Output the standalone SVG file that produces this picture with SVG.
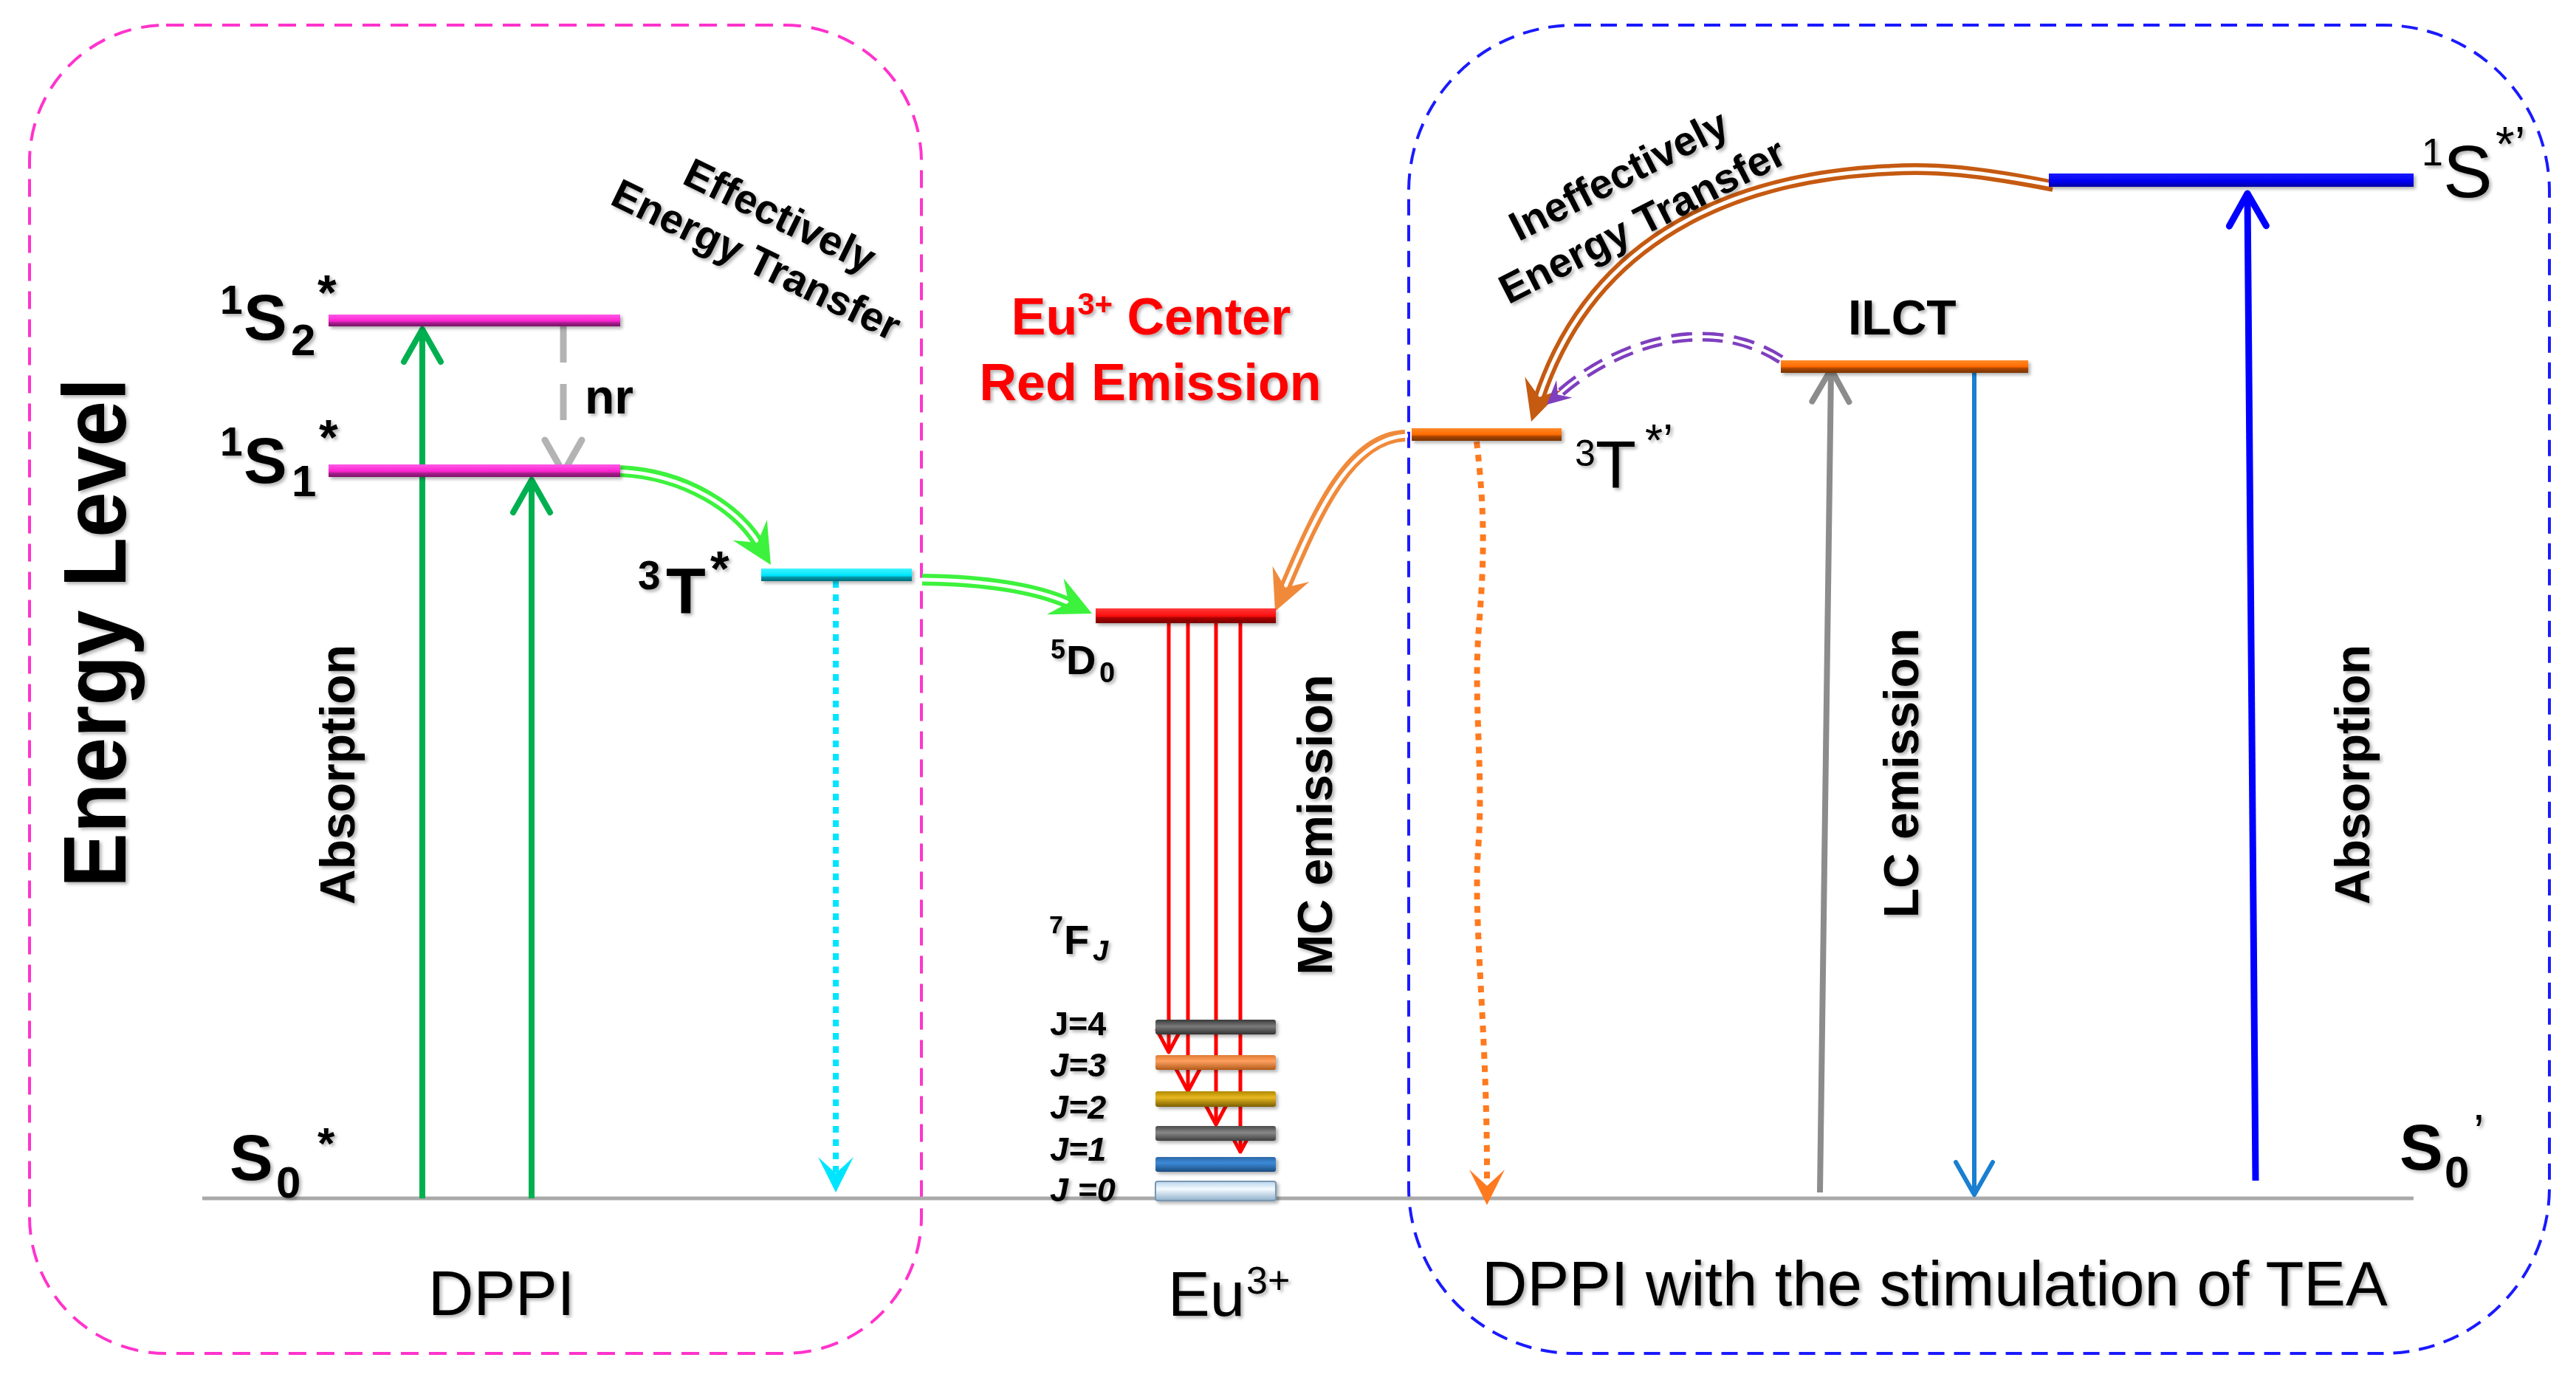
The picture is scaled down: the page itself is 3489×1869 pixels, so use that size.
<svg xmlns="http://www.w3.org/2000/svg" width="3489" height="1869" viewBox="0 0 3489 1869">
<defs>
  <filter id="sh" x="-10%" y="-10%" width="120%" height="130%">
    <feDropShadow dx="3" dy="3" stdDeviation="2" flood-color="#000" flood-opacity="0.3"/>
  </filter>
  <linearGradient id="gMag" x1="0" y1="0" x2="0" y2="1">
    <stop offset="0" stop-color="#ff5ae8"/><stop offset="0.55" stop-color="#ff22d0"/><stop offset="0.7" stop-color="#a8208f"/><stop offset="1" stop-color="#7a1066"/>
  </linearGradient>
  <linearGradient id="gCyan" x1="0" y1="0" x2="0" y2="1">
    <stop offset="0" stop-color="#40f4ff"/><stop offset="0.55" stop-color="#00e5ff"/><stop offset="0.7" stop-color="#0097a8"/><stop offset="1" stop-color="#006b78"/>
  </linearGradient>
  <linearGradient id="gRed" x1="0" y1="0" x2="0" y2="1">
    <stop offset="0" stop-color="#ff3a3a"/><stop offset="0.5" stop-color="#ff0f0f"/><stop offset="0.65" stop-color="#a80000"/><stop offset="1" stop-color="#780000"/>
  </linearGradient>
  <linearGradient id="gOr" x1="0" y1="0" x2="0" y2="1">
    <stop offset="0" stop-color="#ff8a2a"/><stop offset="0.5" stop-color="#ff6a00"/><stop offset="0.65" stop-color="#a84600"/><stop offset="1" stop-color="#7a3300"/>
  </linearGradient>
  <linearGradient id="gBlue" x1="0" y1="0" x2="0" y2="1">
    <stop offset="0" stop-color="#1a1aff"/><stop offset="0.6" stop-color="#0000f0"/><stop offset="1" stop-color="#0000a0"/>
  </linearGradient>
  <linearGradient id="gJ4" x1="0" y1="0" x2="0" y2="1">
    <stop offset="0" stop-color="#3a3a3a"/><stop offset="0.45" stop-color="#7a7a7a"/><stop offset="1" stop-color="#333"/>
  </linearGradient>
  <linearGradient id="gJ3" x1="0" y1="0" x2="0" y2="1">
    <stop offset="0" stop-color="#e07a30"/><stop offset="0.4" stop-color="#ffa060"/><stop offset="1" stop-color="#b05a18"/>
  </linearGradient>
  <linearGradient id="gJ2" x1="0" y1="0" x2="0" y2="1">
    <stop offset="0" stop-color="#b08800"/><stop offset="0.4" stop-color="#e8b820"/><stop offset="1" stop-color="#7a5e00"/>
  </linearGradient>
  <linearGradient id="gJ1" x1="0" y1="0" x2="0" y2="1">
    <stop offset="0" stop-color="#4a4a4a"/><stop offset="0.45" stop-color="#888"/><stop offset="1" stop-color="#3e3e3e"/>
  </linearGradient>
  <linearGradient id="gJb" x1="0" y1="0" x2="0" y2="1">
    <stop offset="0" stop-color="#2a66a8"/><stop offset="0.4" stop-color="#3d8ad8"/><stop offset="1" stop-color="#1b4c80"/>
  </linearGradient>
  <linearGradient id="gJ0" x1="0" y1="0" x2="0" y2="1">
    <stop offset="0" stop-color="#b8d4ec"/><stop offset="0.4" stop-color="#f4fbff"/><stop offset="1" stop-color="#8fb0cc"/>
  </linearGradient>
  <path id="ah" d="M0,0 L-55,-27 L-35,0 L-55,27 Z"/>
  <path id="ahs" d="M0,0 L-32,-16 L-20,0 L-32,16 Z"/>
  <path id="ahd" d="M0,0 L-48,-24 L-26,0 L-48,24 Z"/>
  <path id="chev" d="M-44,-25 L0,0 L-44,25" fill="none"/>
  <path id="chevS" d="M-30,-16 L0,0 L-30,16" fill="none"/>
</defs>
<style>
  text { font-family: "Liberation Sans", Arial, Helvetica, sans-serif; fill: #000; }
  .b { font-weight: bold; }
  .bi { font-weight: bold; font-style: italic; }
  .red { fill: #ff0000; font-weight: bold; }
  .box { fill: none; stroke-width: 4; }
  .cap { stroke-linecap: round; stroke-linejoin: round; fill: none; }
  .dbl { fill: none; stroke-width: 16; }
  .dbl-in { fill: none; stroke: #fff; stroke-width: 5; }
  .sh { filter: url(#sh); }
</style>
<rect width="3489" height="1869" fill="#fff"/>

<!-- frames -->
<g id="frames">
  <rect class="box" x="40" y="34" width="1208" height="1799" rx="185" ry="185" stroke="#ff33cc" stroke-dasharray="24 14"/>
  <rect class="box" x="1908" y="34" width="1545" height="1799" rx="225" ry="225" stroke="#1a1aff" stroke-dasharray="22 13"/>
</g>

<!-- ground line -->
<g id="ground">
  <line x1="274" y1="1623" x2="3269" y2="1623" stroke="#a9a9a9" stroke-width="5"/>
</g>

<!-- connectors -->
<g id="connectors">
  <!-- left absorption (green) -->
  <line x1="572" y1="1623" x2="572" y2="448" stroke="#00b050" stroke-width="8"/>
  <use href="#chev" class="cap" transform="translate(572,446) rotate(-90)" stroke="#00b050" stroke-width="8"/>
  <line x1="720" y1="1623" x2="720" y2="652" stroke="#00b050" stroke-width="8"/>
  <use href="#chev" class="cap" transform="translate(720,650) rotate(-90)" stroke="#00b050" stroke-width="8"/>
  <!-- nr -->
  <line x1="763" y1="442" x2="763" y2="574" stroke="#b3b3b3" stroke-width="9" stroke-dasharray="49 29"/>
  <use href="#chev" class="cap" transform="translate(763,640) rotate(90)" stroke="#b3b3b3" stroke-width="9"/>
  <!-- green energy transfer 1 -->
  <path class="dbl" stroke="#3df23d" d="M840,638 C930,642 1000,690 1028,737"/>
  <path class="dbl-in" d="M836,638 C930,642 1000,690 1028,737"/>
  <use href="#ah" transform="translate(1044,765) rotate(59)" fill="#3df23d"/>
  <!-- green energy transfer 2 -->
  <path class="dbl" stroke="#3df23d" d="M1249,785 C1330,786 1400,795 1450,818"/>
  <path class="dbl-in" d="M1246,785 C1330,786 1400,795 1450,818"/>
  <use href="#ah" transform="translate(1479,831) rotate(25)" fill="#3df23d"/>
  <!-- cyan dotted -->
  <line x1="1132" y1="787" x2="1132" y2="1595" stroke="#00e5ff" stroke-width="8" stroke-dasharray="9 9"/>
  <use href="#ahd" transform="translate(1132,1615) rotate(90)" fill="#00e5ff"/>
  <!-- red MC emission -->
  <g stroke="#ff0000" stroke-width="5">
    <line x1="1583" y1="844" x2="1583" y2="1423"/>
    <line x1="1609" y1="844" x2="1609" y2="1476"/>
    <line x1="1647" y1="844" x2="1647" y2="1521"/>
    <line x1="1680" y1="844" x2="1680" y2="1558"/>
  </g>
  <g stroke="#ff0000" stroke-width="5">
    <use href="#chevS" class="cap" transform="translate(1583,1425) rotate(90)"/>
    <use href="#chevS" class="cap" transform="translate(1609,1478) rotate(90)"/>
    <use href="#chevS" class="cap" transform="translate(1647,1523) rotate(90)"/>
    <use href="#chevS" class="cap" transform="translate(1680,1560) rotate(90)"/>
  </g>
  <!-- orange 3T*' to 5D0 -->
  <path class="dbl" stroke="#f08a3a" d="M1903,590 C1830,592 1785,690 1739,799"/>
  <path class="dbl-in" d="M1907,590 C1830,592 1785,690 1739,799"/>
  <use href="#ah" transform="translate(1727,828) rotate(113)" fill="#f08a3a"/>
  <!-- orange dotted wavy -->
  <path d="M2000,598 C2012,700 2010,760 2003,850 C1995,950 2010,1050 2002,1150 C1995,1250 2015,1400 2014,1605" fill="none" stroke="#ff7a1f" stroke-width="8" stroke-dasharray="9 9"/>
  <use href="#ahd" transform="translate(2014,1632) rotate(90)" fill="#ff7a1f"/>
  <!-- brown ineffective transfer -->
  <path class="dbl" stroke="#c55a11" d="M2781,252 C2680,232 2620,226 2560,230 C2420,236 2170,280 2084,541"/>
  <path class="dbl-in" d="M2785,252 C2680,232 2620,226 2560,230 C2420,236 2170,280 2084,541"/>
  <use href="#ah" transform="translate(2074,571) rotate(108)" fill="#c55a11"/>
  <!-- purple dashed -->
  <path d="M2412,487 C2370,460 2330,455 2296,456 C2230,458 2160,490 2110,535" fill="none" stroke="#7f3fbf" stroke-width="13" stroke-dasharray="28 14"/>
  <path d="M2416,489 C2370,460 2330,455 2296,456 C2230,458 2160,490 2110,535" fill="none" stroke="#fff" stroke-width="4"/>
  <use href="#ahs" transform="translate(2095,548) rotate(138)" fill="#7f3fbf"/>
  <!-- gray ILCT absorption -->
  <line x1="2465" y1="1615" x2="2480" y2="502" stroke="#8c8c8c" stroke-width="8"/>
  <use href="#chev" class="cap" transform="translate(2480,500) rotate(-89.2)" stroke="#8c8c8c" stroke-width="8"/>
  <!-- LC emission -->
  <line x1="2674" y1="505" x2="2674" y2="1616" stroke="#1a7fd0" stroke-width="6"/>
  <use href="#chev" class="cap" transform="translate(2674,1618) rotate(90)" stroke="#1a7fd0" stroke-width="6"/>
  <!-- blue absorption -->
  <line x1="3055" y1="1599" x2="3044" y2="264" stroke="#0000ff" stroke-width="9"/>
  <use href="#chev" class="cap" transform="translate(3044,262) rotate(-90.5)" stroke="#0000ff" stroke-width="9"/>
</g>

<!-- nodes: energy levels -->
<g id="S2" class="sh">
  <rect x="445" y="426" width="395" height="16" fill="url(#gMag)"/>
  <text class="b" x="298" y="425" font-size="55">1</text>
  <text class="b" x="330" y="460" font-size="88">S</text>
  <text class="b" x="394" y="481" font-size="60">2</text>
  <text class="b" x="430" y="419" font-size="66">*</text>
</g>
<g id="S1" class="sh">
  <rect x="445" y="629" width="395" height="17" fill="url(#gMag)"/>
  <text class="b" x="298" y="617" font-size="55">1</text>
  <text class="b" x="330" y="654" font-size="88">S</text>
  <text class="b" x="395" y="672" font-size="60">1</text>
  <text class="b" x="432" y="615" font-size="66">*</text>
</g>
<g id="T1" class="sh">
  <rect x="1031" y="770" width="204" height="17" fill="url(#gCyan)"/>
  <text class="b" x="864" y="798" font-size="55">3</text>
  <text class="b" x="902" y="830" font-size="88">T</text>
  <text class="b" x="962" y="793" font-size="66">*</text>
</g>
<g id="S0L" class="sh">
  <text class="b" x="311" y="1598" font-size="88">S</text>
  <text class="b" x="374" y="1622" font-size="60">0</text>
  <text class="b" x="430" y="1569" font-size="60">*</text>
</g>
<g id="D0" class="sh">
  <rect x="1484" y="824" width="244" height="20" fill="url(#gRed)"/>
  <text class="b" x="1423" y="892" font-size="36">5</text>
  <text class="b" x="1444" y="913" font-size="56">D</text>
  <text class="b" x="1489" y="924" font-size="38">0</text>
</g>
<g id="FJ" class="sh">
  <text class="b" x="1421" y="1264" font-size="34">7</text>
  <text class="b" x="1441" y="1292" font-size="56">F</text>
  <text class="bi" x="1480" y="1301" font-size="38">J</text>
  <rect x="1565" y="1381" width="163" height="20" rx="3" fill="url(#gJ4)"/>
  <rect x="1565" y="1429" width="163" height="20" rx="3" fill="url(#gJ3)"/>
  <rect x="1565" y="1478" width="163" height="21" rx="3" fill="url(#gJ2)"/>
  <rect x="1565" y="1525" width="163" height="20" rx="3" fill="url(#gJ1)"/>
  <rect x="1565" y="1567" width="163" height="20" rx="3" fill="url(#gJb)"/>
  <rect x="1565" y="1600" width="163" height="26" rx="3" fill="url(#gJ0)" stroke="#7a98b4" stroke-width="2"/>
  <text class="b" x="1422" y="1402" font-size="45">J=4</text>
  <text class="bi" x="1422" y="1458" font-size="45">J=3</text>
  <text class="bi" x="1422" y="1515" font-size="45">J=2</text>
  <text class="bi" x="1422" y="1572" font-size="45">J=1</text>
  <text class="bi" x="1422" y="1627" font-size="45">J =0</text>
</g>
<g id="T1p" class="sh">
  <rect x="1912" y="580" width="203" height="17" fill="url(#gOr)"/>
  <text x="2133" y="631" font-size="50">3</text>
  <text x="2161" y="661" font-size="90">T</text>
  <text x="2228" y="617" font-size="62">*’</text>
</g>
<g id="ILCT" class="sh">
  <rect x="2412" y="488" width="335" height="17" fill="url(#gOr)"/>
  <text class="b" x="2503" y="453" font-size="66">ILCT</text>
</g>
<g id="S1p" class="sh">
  <rect x="2775" y="235" width="494" height="18" fill="url(#gBlue)"/>
  <text x="3280" y="224" font-size="52">1</text>
  <text x="3309" y="267" font-size="100">S</text>
  <text x="3380" y="218" font-size="66">*’</text>
</g>
<g id="S0R" class="sh">
  <text class="b" x="3250" y="1584" font-size="88">S</text>
  <text class="b" x="3311" y="1608" font-size="60">0</text>
  <text x="3350" y="1556" font-size="66">’</text>
</g>

<!-- labels -->
<g id="labels" class="sh">
  <text class="b" transform="translate(170,857) rotate(-90)" text-anchor="middle" font-size="120" textLength="690" lengthAdjust="spacingAndGlyphs">Energy Level</text>
  <text class="b" transform="translate(480,1049) rotate(-90)" text-anchor="middle" font-size="66">Absorption</text>
  <text class="b" transform="translate(3209,1049) rotate(-90)" text-anchor="middle" font-size="66">Absorption</text>
  <text class="b" transform="translate(2598,1047) rotate(-90)" text-anchor="middle" font-size="66">LC emission</text>
  <text class="b" transform="translate(1804,1117) rotate(-90)" text-anchor="middle" font-size="66">MC emission</text>
  <text class="b" x="792" y="560" font-size="66">nr</text>
  <text class="b" transform="translate(1048,309) rotate(26)" text-anchor="middle" font-size="56">Effectively</text>
  <text class="b" transform="translate(1016,369) rotate(26)" text-anchor="middle" font-size="56">Energy Transfer</text>
  <text class="b" transform="translate(2201,254) rotate(-27)" text-anchor="middle" font-size="56">Ineffectively</text>
  <text class="b" transform="translate(2233,316) rotate(-27)" text-anchor="middle" font-size="56">Energy Transfer</text>
  <text class="red" x="1559" y="453" text-anchor="middle" font-size="70">Eu<tspan font-size="42" dy="-27">3+</tspan><tspan dy="27"> Center</tspan></text>
  <text class="red" x="1558" y="542" text-anchor="middle" font-size="70">Red Emission</text>
  <text x="580" y="1781" font-size="85">DPPI</text>
  <text x="1582" y="1782" font-size="85">Eu</text>
  <text x="1688" y="1752" font-size="52">3+</text>
  <text x="2007" y="1768" font-size="85">DPPI with the stimulation of TEA</text>
</g>
</svg>
